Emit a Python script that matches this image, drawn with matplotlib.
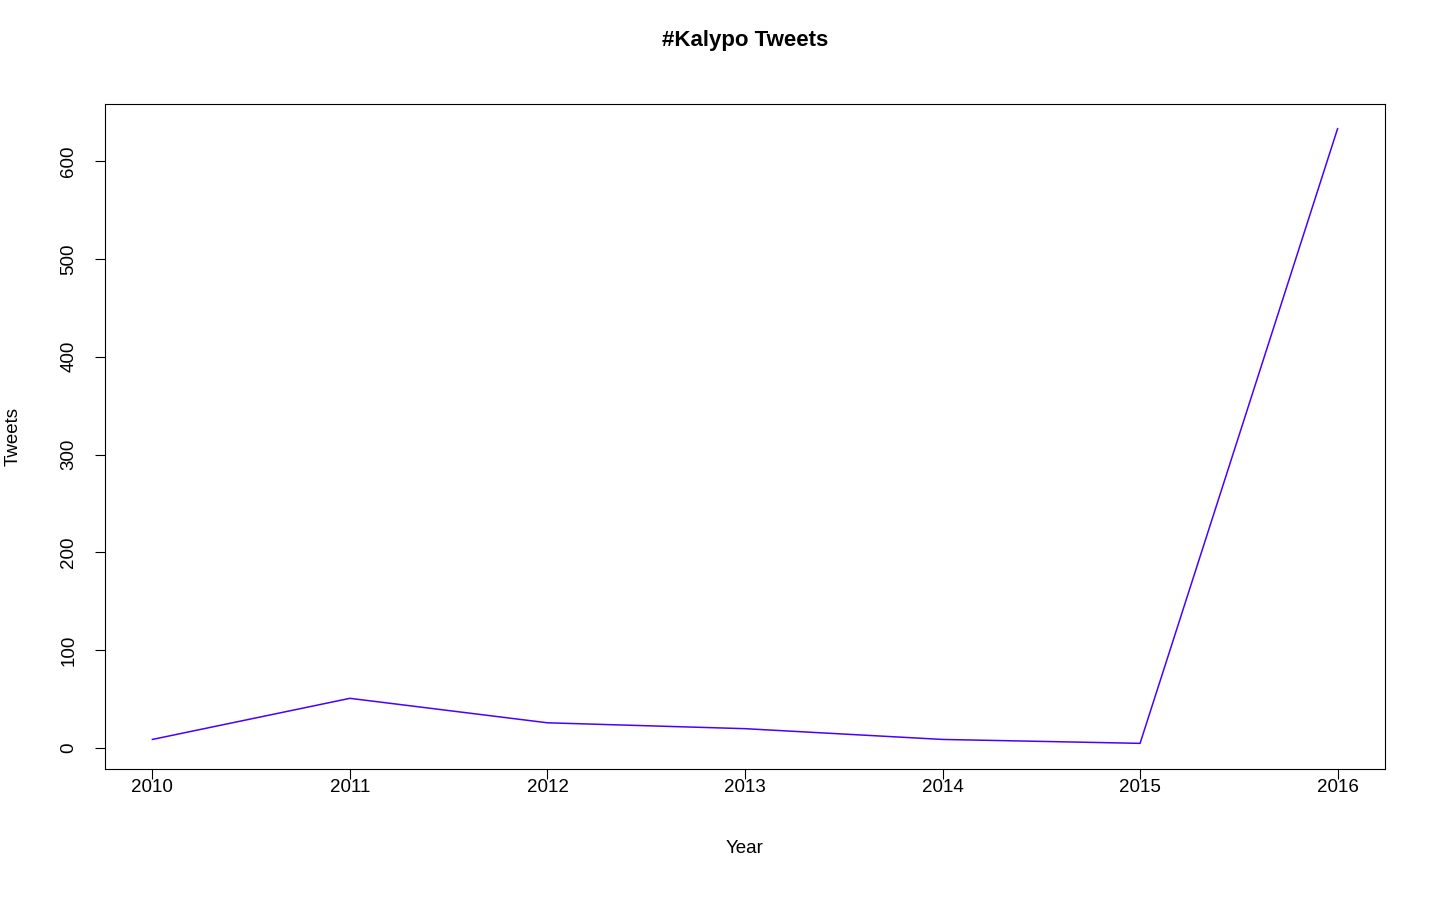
import matplotlib
matplotlib.use("Agg")
import matplotlib.pyplot as plt

years = [2010, 2011, 2012, 2013, 2014, 2015, 2016]
tweets = [9, 51, 26, 20, 9, 5, 633]

plt.rcParams['font.family'] = ['Liberation Sans', 'DejaVu Sans']
fig = plt.figure(figsize=(14.4, 9), dpi=100)
ax = fig.add_axes([105/1440, 1-769/900, 1280/1440, 665/900])
ax.plot(years, tweets, color='#4a00ff', lw=1.1)
ax.set_xlim(2010 - 0.24, 2016 + 0.24)
ax.set_ylim(4 - 25.2, 633 + 25.2)
ax.set_xticks(years)
ax.set_yticks([0, 100, 200, 300, 400, 500, 600])
ax.tick_params(labelsize=13.5, length=7)
ax.tick_params(axis='x', pad=0)
ax.tick_params(axis='y', pad=13)
for lab in ax.get_yticklabels():
    lab.set_rotation(90)
    lab.set_va('center')
ax.set_xlabel('Year', fontsize=13.5, labelpad=32)
ax.set_ylabel('Tweets', fontsize=13.5, labelpad=28)
ax.set_title('#Kalypo Tweets', fontsize=16, fontweight='bold', pad=42)
fig.savefig('out.png', dpi=100)
